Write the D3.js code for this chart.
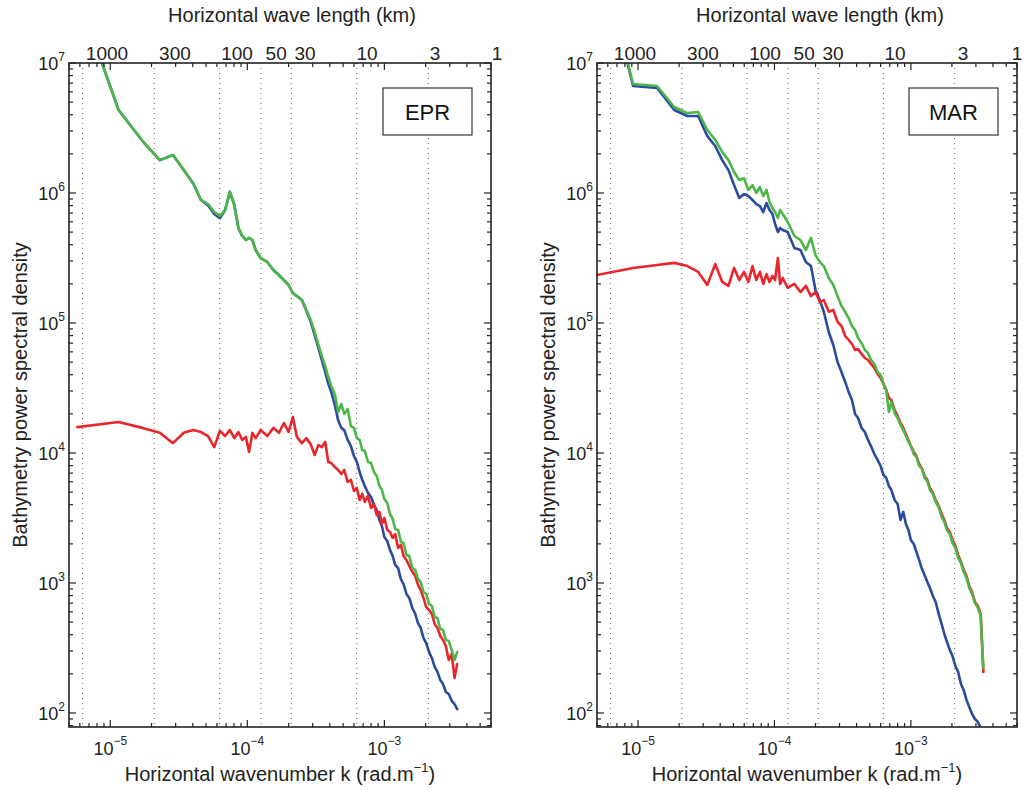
<!DOCTYPE html>
<html>
<head>
<meta charset="utf-8">
<script src="https://cdnjs.cloudflare.com/ajax/libs/d3/7.8.5/d3.min.js"></script>
<style>
body { margin: 0; background: #fff; }
svg { font-family: "Liberation Sans", Arial, Helvetica, sans-serif; }
</style>
</head>
<body>
<svg id="chart" width="1025" height="790"></svg>
<script>
// wavenumbers (rad/m) of the EPR spectrum
var kEPR = [5.74e-6, 1.15e-5, 1.72e-5, 2.30e-5, 2.87e-5, 3.44e-5, 4.02e-5, 4.59e-5, 5.17e-5, 5.74e-5,
  6.31e-5, 6.89e-5, 7.46e-5, 8.04e-5, 8.61e-5, 9.18e-5, 9.76e-5, 1.03e-4, 1.09e-4, 1.15e-4,
  1.25e-4, 1.4e-4, 1.55e-4, 1.7e-4, 1.85e-4, 2.0e-4, 2.15e-4, 2.3e-4, 2.5e-4, 2.7e-4,
  2.9e-4, 3.1e-4, 3.3e-4, 3.5e-4, 3.7e-4, 3.9e-4, 4.1e-4, 4.35e-4, 4.6e-4, 4.85e-4,
  5.1e-4, 5.4e-4, 5.7e-4, 6.0e-4, 6.3e-4, 6.6e-4, 6.9e-4, 7.2e-4, 7.6e-4, 8.0e-4,
  8.4e-4, 8.8e-4, 9.2e-4, 9.6e-4, 1.0e-3, 1.05e-3, 1.1e-3, 1.15e-3, 1.2e-3, 1.26e-3,
  1.32e-3, 1.38e-3, 1.45e-3, 1.52e-3, 1.6e-3, 1.68e-3, 1.76e-3, 1.84e-3, 1.93e-3, 2.02e-3,
  2.12e-3, 2.22e-3, 2.33e-3, 2.44e-3, 2.56e-3, 2.68e-3, 2.81e-3, 2.95e-3, 3.1e-3, 3.25e-3, 3.4e-3];

var eprBlue = [3.45e7, 4.35e6, 2.51e6, 1.79e6, 1.96e6, 1.50e6, 1.19e6, 8.84e5, 8.0e5, 6.9e5,
  6.4e5, 7.40e5, 1.02e6, 8.09e5, 5.38e5, 4.67e5, 4.35e5, 4.51e5, 4.35e5, 3.64e5,
  3.16e5, 2.95e5, 2.56e5, 2.34e5, 2.14e5, 1.96e5, 1.70e5, 1.61e5, 1.50e5, 1.24e5,
  1.02e5, 8.09e4, 6.42e4, 5.19e4, 4.20e4, 3.40e4, 2.94e4, 2.34e4, 1.79e4, 1.56e4,
  1.50e4, 1.26e4, 1.13e4, 9.48e3, 8.53e3, 7.14e3, 6.20e3, 5.57e3, 4.92e3, 4.59e3,
  3.98e3, 3.64e3, 3.05e3, 2.74e3, 2.26e3, 2.10e3, 1.79e3, 1.61e3, 1.38e3, 1.30e3,
  1.07e3, 982, 823, 767, 642, 578, 492, 451, 377, 345,
  294, 265, 226, 207, 179, 167, 145, 140, 124, 117, 107];

var eprGreen = [3.45e7, 4.35e6, 2.51e6, 1.79e6, 1.96e6, 1.50e6, 1.19e6, 8.84e5, 8.22e5, 7.14e5,
  6.65e5, 7.40e5, 1.02e6, 8.09e5, 5.38e5, 4.67e5, 4.35e5, 4.51e5, 4.35e5, 3.64e5,
  3.16e5, 2.95e5, 2.56e5, 2.34e5, 2.14e5, 1.96e5, 1.70e5, 1.61e5, 1.50e5, 1.26e5,
  1.055e5, 8.53e4, 6.77e4, 5.57e4, 4.67e4, 3.84e4, 3.27e4, 2.84e4, 2.07e4, 2.38e4,
  1.995e4, 2.18e4, 1.61e4, 1.56e4, 1.30e4, 1.26e4, 1.055e4, 1.035e4, 8.53e3, 8.37e3,
  7.14e3, 6.65e3, 5.57e3, 5.19e3, 4.43e3, 4.12e3, 3.40e3, 3.10e3, 2.60e3, 2.56e3,
  2.07e3, 2.03e3, 1.64e3, 1.61e3, 1.30e3, 1.26e3, 1.07e3, 1.02e3, 853, 823,
  689, 665, 547, 538, 443, 435, 364, 358, 305, 256, 294];

var eprRed = [1.58e4, 1.73e4, 1.56e4, 1.43e4, 1.19e4, 1.43e4, 1.50e4, 1.45e4, 1.35e4, 1.11e4,
  1.48e4, 1.35e4, 1.50e4, 1.30e4, 1.45e4, 1.26e4, 1.33e4, 1.02e4, 1.43e4, 1.30e4,
  1.50e4, 1.35e4, 1.56e4, 1.43e4, 1.70e4, 1.45e4, 1.89e4, 1.33e4, 1.19e4, 1.30e4,
  1.17e4, 9.66e3, 1.15e4, 1.11e4, 1.22e4, 8.53e3, 8.37e3, 7.80e3, 7.40e3, 6.89e3,
  7.40e3, 5.98e3, 6.20e3, 5.10e3, 5.38e3, 4.35e3, 4.84e3, 4.20e3, 4.67e3, 3.78e3,
  4.05e3, 3.33e3, 3.52e3, 2.84e3, 3.16e3, 2.56e3, 2.47e3, 2.22e3, 2.38e3, 1.86e3,
  1.96e3, 1.61e3, 1.50e3, 1.35e3, 1.22e3, 1.13e3, 966, 884, 767, 653,
  620, 578, 484, 451, 391, 364, 327, 256, 284, 186, 238];

// wavenumbers (rad/m) of the MAR spectrum
var kMAR = [4.6e-6, 9.2e-6, 1.38e-5, 1.84e-5, 2.3e-5, 2.76e-5, 3.22e-5, 3.68e-5, 4.14e-5, 4.6e-5,
  5.06e-5, 5.52e-5, 5.98e-5, 6.44e-5, 6.9e-5, 7.36e-5, 7.82e-5, 8.28e-5, 8.74e-5, 9.2e-5,
  9.66e-5, 1.01e-4, 1.06e-4, 1.1e-4, 1.15e-4,
  1.25e-4, 1.4e-4, 1.55e-4, 1.7e-4, 1.85e-4, 2.0e-4, 2.15e-4, 2.3e-4, 2.5e-4, 2.7e-4,
  2.9e-4, 3.1e-4, 3.3e-4, 3.5e-4, 3.7e-4, 3.9e-4, 4.1e-4, 4.35e-4, 4.6e-4, 4.85e-4,
  5.1e-4, 5.4e-4, 5.7e-4, 6.0e-4, 6.3e-4, 6.6e-4, 6.9e-4, 7.2e-4, 7.6e-4, 8.0e-4,
  8.4e-4, 8.8e-4, 9.2e-4, 9.6e-4, 1.0e-3, 1.05e-3, 1.1e-3, 1.15e-3, 1.2e-3, 1.26e-3,
  1.32e-3, 1.38e-3, 1.45e-3, 1.52e-3, 1.6e-3, 1.68e-3, 1.76e-3, 1.84e-3, 1.93e-3, 2.02e-3,
  2.12e-3, 2.22e-3, 2.33e-3, 2.44e-3, 2.56e-3, 2.68e-3, 2.81e-3, 2.95e-3, 3.1e-3, 3.25e-3, 3.4e-3];

var marBlue = [1.25e8, 6.65e6, 6.42e6, 4.35e6, 3.91e6, 3.91e6, 2.74e6, 2.30e6, 1.79e6, 1.50e6,
  1.15e6, 9.16e5, 9.82e5, 9.48e5, 8.84e5, 8.22e5, 7.94e5, 7.14e5, 8.37e5, 7.40e5,
  6.89e5, 5.78e5, 5.01e5, 5.38e5, 5.19e5, 5.01e5, 3.78e5, 3.64e5, 2.95e5, 2.74e5,
  1.79e5, 1.50e5, 1.22e5, 8.53e4, 6.77e4, 5.01e4, 4.20e4, 3.52e4, 2.94e4, 2.56e4,
  1.995e4, 1.86e4, 1.56e4, 1.45e4, 1.26e4, 1.13e4, 9.82e3, 8.84e3, 7.94e3, 6.77e3,
  6.43e3, 5.57e3, 5.19e3, 4.35e3, 4.05e3, 3.05e3, 3.52e3, 2.84e3, 2.56e3, 2.14e3,
  1.995e3, 1.73e3, 1.50e3, 1.30e3, 1.15e3, 1.02e3, 916, 794, 714, 578,
  484, 405, 352, 305, 274, 230, 207, 167, 150, 126,
  111, 98.2, 89.9, 85.3, 76.7, 68.9];

var marGreen = [1.28e8, 6.89e6, 6.65e6, 4.59e6, 4.12e6, 4.20e6, 3.05e6, 2.56e6, 2.07e6, 1.79e6,
  1.45e6, 1.26e6, 1.30e6, 1.055e6, 1.15e6, 1.0e6, 1.11e6, 9.48e5, 1.055e6, 8.53e5,
  7.67e5, 7.14e5, 6.42e5, 7.40e5, 6.89e5, 5.98e5, 4.67e5, 4.35e5, 3.64e5, 4.51e5,
  3.33e5, 2.95e5, 2.74e5, 2.22e5, 1.96e5, 1.61e5, 1.35e5, 1.22e5, 1.09e5, 9.48e4,
  8.83e4, 7.67e4, 7.02e4, 6.20e4, 5.88e4, 5.19e4, 4.84e4, 4.20e4, 3.98e4, 3.40e4,
  3.05e4, 2.07e4, 2.47e4, 2.03e4, 1.86e4, 1.64e4, 1.50e4, 1.35e4, 1.22e4, 1.13e4,
  9.82e3, 9.32e3, 7.94e3, 7.67e3, 6.43e3, 6.09e3, 5.19e3, 4.84e3, 4.20e3, 3.84e3,
  3.22e3, 2.94e3, 2.56e3, 2.38e3, 2.03e3, 1.86e3, 1.56e3, 1.43e3, 1.22e3, 1.09e3,
  916, 823, 702, 642, 557, 222];

var marRed = [2.30e5, 2.65e5, 2.79e5, 2.90e5, 2.74e5, 2.47e5, 1.96e5, 2.84e5, 2.07e5, 1.93e5,
  2.65e5, 2.14e5, 2.47e5, 2.07e5, 2.74e5, 2.14e5, 2.47e5, 2.0e5, 2.38e5, 2.07e5,
  2.30e5, 2.14e5, 3.16e5, 2.0e5, 2.22e5, 1.86e5, 2.0e5, 1.73e5, 1.93e5, 1.61e5,
  1.73e5, 1.45e5, 1.50e5, 1.22e5, 1.26e5, 1.02e5, 9.48e4, 7.94e4, 7.40e4, 6.89e4,
  6.20e4, 6.31e4, 5.78e4, 5.38e4, 5.19e4, 4.84e4, 4.51e4, 4.05e4, 3.78e4, 3.40e4,
  3.05e4, 2.65e4, 2.56e4, 2.14e4, 1.93e4, 1.70e4, 1.56e4, 1.40e4, 1.26e4, 1.13e4,
  1.02e4, 9.48e3, 8.23e3, 7.67e3, 6.65e3, 6.20e3, 5.38e3, 4.92e3, 4.35e3, 3.91e3,
  3.40e3, 3.05e3, 2.65e3, 2.47e3, 2.14e3, 1.93e3, 1.64e3, 1.45e3, 1.26e3, 1.13e3,
  948, 853, 714, 665, 578, 207];

// horizontal wave lengths (km) marked by the dotted lines and top labels
var gridWaveLengths = [1000, 300, 100, 50, 30, 10, 3];
var topWaveLabels = [1000, 300, 100, 50, 30, 10, 3, 1];
var xMajorTicks = [1e-5, 1e-4, 1e-3];
var yMajorTicks = [1e2, 1e3, 1e4, 1e5, 1e6, 1e7];

var kDomain = [5e-6, 6e-3];
var psdDomain = [78, 1e7];

var colors = { blue: '#2c4b9f', green: '#4cb748', red: '#e8262b' };
var ink = '#222';

var width = 1025;
var plotTop = 63, plotBottom = 727;

var panels = [
  { name: 'EPR', left: 69, right: 491, k: kEPR, blue: eprBlue, green: eprGreen, red: eprRed },
  { name: 'MAR', left: 597, right: 1017, k: kMAR, blue: marBlue, green: marGreen, red: marRed }
];

var svg = d3.select('svg#chart');

function superscriptLabel(sel, base, exp, baseSize, expSize, rise) {
  sel.append('tspan').attr('font-size', baseSize).text(base);
  sel.append('tspan').attr('font-size', expSize).attr('dy', -rise).text(exp);
}

function drawPanel(p) {
  var x = d3.scaleLog().domain(kDomain).range([p.left, p.right]);
  var y = d3.scaleLog().domain(psdDomain).range([plotBottom, plotTop]);
  var top = d3.scaleLog().domain([1000, 1]).range([p.left + 38, p.left + 428]);
  var g = svg.append('g');
  var w = p.right - p.left;

  g.append('clipPath')
    .attr('id', 'clip-' + p.name)
    .append('rect')
    .attr('x', p.left)
    .attr('y', plotTop)
    .attr('width', w)
    .attr('height', plotBottom - plotTop);

  // dotted lines at the wave lengths
  g.selectAll('.grid')
    .data(gridWaveLengths)
    .enter()
    .append('line')
    .attr('class', 'grid')
    .attr('x1', function (d) { return x(2 * Math.PI / (d * 1000)); })
    .attr('x2', function (d) { return x(2 * Math.PI / (d * 1000)); })
    .attr('y1', plotTop)
    .attr('y2', plotBottom)
    .style('stroke', '#666')
    .style('stroke-width', 1)
    .style('stroke-dasharray', '1,4');

  var line = d3.line()
    .x(function (d) { return x(d[0]); })
    .y(function (d) { return y(d[1]); });

  var lines = g.append('g').attr('clip-path', 'url(#clip-' + p.name + ')');
  ['blue', 'red', 'green'].forEach(function (c) {
    var pts = p.k.map(function (k, i) { return [k, p[c][i]]; });
    lines.append('path')
      .datum(pts)
      .attr('d', line)
      .style('fill', 'none')
      .style('stroke', colors[c])
      .style('stroke-width', 2.6)
      .style('stroke-linejoin', 'round')
      .style('stroke-linecap', 'round');
  });

  // inward ticks on all four sides
  function isMajor(t) {
    var l = Math.log10(t);
    return Math.abs(l - Math.round(l)) < 1e-6;
  }
  x.ticks().forEach(function (t) {
    var len = isMajor(t) ? 7 : 4;
    var xx = x(t);
    g.append('line').attr('x1', xx).attr('x2', xx).attr('y1', plotBottom).attr('y2', plotBottom - len)
      .style('stroke', ink).style('stroke-width', 1.2);
    g.append('line').attr('x1', xx).attr('x2', xx).attr('y1', plotTop).attr('y2', plotTop + len)
      .style('stroke', ink).style('stroke-width', 1.2);
  });
  y.ticks().forEach(function (t) {
    var len = isMajor(t) ? 7 : 4;
    var yy = y(t);
    g.append('line').attr('x1', p.left).attr('x2', p.left + len).attr('y1', yy).attr('y2', yy)
      .style('stroke', ink).style('stroke-width', 1.2);
    g.append('line').attr('x1', p.right).attr('x2', p.right - len).attr('y1', yy).attr('y2', yy)
      .style('stroke', ink).style('stroke-width', 1.2);
  });

  g.append('rect')
    .attr('x', p.left)
    .attr('y', plotTop)
    .attr('width', w)
    .attr('height', plotBottom - plotTop)
    .style('fill', 'none')
    .style('stroke', ink)
    .style('stroke-width', 1.6);

  // bottom tick labels
  g.selectAll('.xlabel')
    .data(xMajorTicks)
    .enter()
    .append('text')
    .attr('class', 'xlabel')
    .attr('x', function (d) { return x(d); })
    .attr('y', 755)
    .attr('text-anchor', 'middle')
    .style('fill', ink)
    .each(function (d) {
      superscriptLabel(d3.select(this), '10', '\u2212' + Math.round(-Math.log10(d)), 18, 12, 10);
    });

  // left tick labels
  g.selectAll('.ylabel')
    .data(yMajorTicks)
    .enter()
    .append('text')
    .attr('class', 'ylabel')
    .attr('x', p.left - 4)
    .attr('y', function (d) { return y(d) + 7; })
    .attr('text-anchor', 'end')
    .style('fill', ink)
    .each(function (d) {
      superscriptLabel(d3.select(this), '10', String(Math.round(Math.log10(d))), 18, 12, 9);
    });

  // top wave length labels (kept inside the page)
  g.selectAll('.toplabel')
    .data(topWaveLabels)
    .enter()
    .append('text')
    .attr('class', 'toplabel')
    .attr('x', function (d) { return Math.min(top(d), width - 8); })
    .attr('y', 60)
    .attr('text-anchor', 'middle')
    .attr('font-size', 19)
    .style('fill', ink)
    .text(function (d) { return d; });

  g.append('text')
    .attr('x', p.left + 223)
    .attr('y', 22)
    .attr('text-anchor', 'middle')
    .attr('font-size', 20)
    .style('fill', ink)
    .text('Horizontal wave length (km)');

  var xt = g.append('text')
    .attr('x', p.left + w / 2)
    .attr('y', 781)
    .attr('text-anchor', 'middle')
    .attr('font-size', 20)
    .style('fill', ink);
  xt.append('tspan').text('Horizontal wavenumber k (rad.m');
  xt.append('tspan').attr('font-size', 13).attr('dy', -9).text('\u22121');
  xt.append('tspan').attr('dy', 9).text(')');

  g.append('text')
    .attr('transform', 'translate(' + (p.left - 42) + ',' + ((plotTop + plotBottom) / 2) + ') rotate(-90)')
    .attr('text-anchor', 'middle')
    .attr('font-size', 20)
    .style('fill', ink)
    .text('Bathymetry power spectral density');

  // name box
  g.append('rect')
    .attr('x', p.right - 108)
    .attr('y', plotTop + 25)
    .attr('width', 89)
    .attr('height', 47)
    .style('fill', '#fff')
    .style('stroke', ink)
    .style('stroke-width', 1.1);
  g.append('text')
    .attr('x', p.right - 108 + 44.5)
    .attr('y', plotTop + 25 + 32)
    .attr('text-anchor', 'middle')
    .attr('font-size', 22)
    .style('fill', '#111')
    .text(p.name);
}

panels.forEach(drawPanel);
</script>
</body>
</html>
